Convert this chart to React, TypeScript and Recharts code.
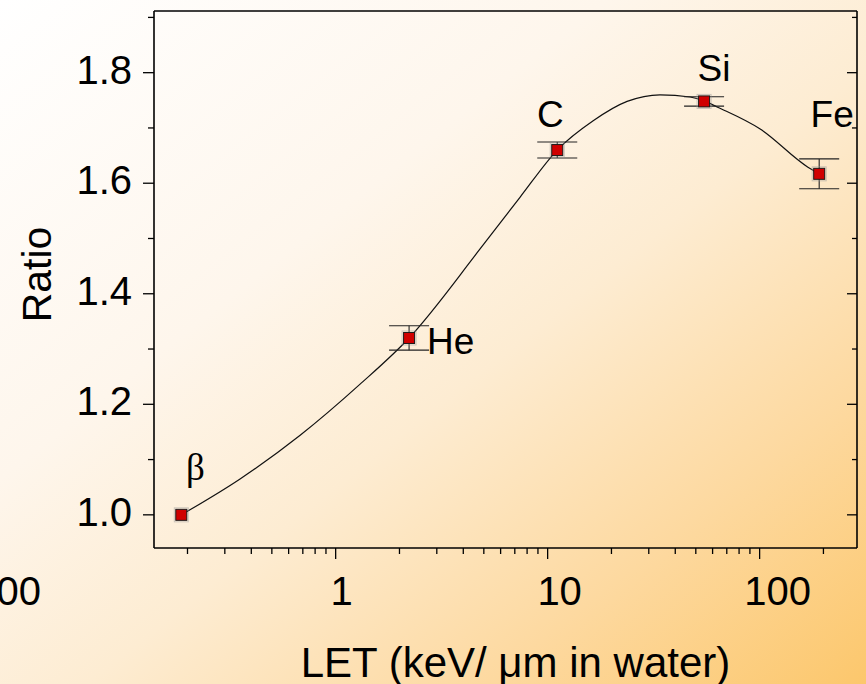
import React from 'react';
import { ComposedChart, Scatter, Line, XAxis, YAxis, ErrorBar } from 'recharts';

// Measured points (LET in keV/um, ratio, error)
const ionNames = ['β', 'He', 'C', 'Si', 'Fe'];
const letValues = [0.187, 2.22, 11.1, 54.7, 191];
const ratioValues = [1.0, 1.32, 1.66, 1.748, 1.617];
const ratioErrors = [0, 0.022, 0.0145, 0.0085, 0.027];

// Fitted smooth curve
const fitLet = [0.187, 0.354, 0.68, 1.3, 2.22, 4.8, 7.42, 11.1, 16.4, 23.7, 33.9, 47, 54.7, 63, 100.6, 169, 191];
const fitRatio = [1.0, 1.065, 1.144, 1.236, 1.32, 1.481, 1.575, 1.66, 1.713, 1.748, 1.76, 1.756, 1.749, 1.738, 1.698, 1.629, 1.617];

// Axis ticks
const xMajorTicks = [1, 10, 100];
const xAllTicks = [0.2, 0.3, 0.4, 0.5, 0.6, 0.7, 0.8, 0.9, 1, 2, 3, 4, 5, 6, 7, 8, 9, 10, 20, 30, 40, 50, 60, 70, 80, 90, 100, 200];
const yMajorTicks = [1.0, 1.2, 1.4, 1.6, 1.8];
const yAllTicks = [1.0, 1.1, 1.2, 1.3, 1.4, 1.5, 1.6, 1.7, 1.8, 1.9];

const xDomain = [0.139, 288];
const yDomain = [0.94, 1.9116];

const points = ionNames.map((name, i) => ({ name, let: letValues[i], ratio: ratioValues[i], err: ratioErrors[i] }));
const fitData = fitLet.map((v, i) => ({ let: v, ratio: fitRatio[i] }));

const SANS = '"Liberation Sans", Arial, sans-serif';
const SERIF = '"Liberation Serif", "Times New Roman", serif';

const labelStyle: Record<string, { dx: number; dy: number; anchor: string; serif?: boolean }> = {
  'β': { dx: 14, dy: -35, anchor: 'middle', serif: true },
  He: { dx: 18, dy: 16, anchor: 'start' },
  C: { dx: -7, dy: -23, anchor: 'middle' },
  Si: { dx: 10, dy: -20, anchor: 'middle' },
  Fe: { dx: 13, dy: -47, anchor: 'middle' },
};

const MarkerShape = (props: any) => {
  const { cx, cy, payload } = props;
  if (cx == null || cy == null) return null;
  const s = 11;
  const ls = labelStyle[payload.name];
  return (
    <g>
      <rect x={cx - s / 2 - 1.5} y={cy - s / 2 - 1.5} width={s + 3} height={s + 3} fill="none" stroke="#9a9a9a" strokeOpacity={0.5} strokeWidth={1} />
      <rect x={cx - s / 2} y={cy - s / 2} width={s} height={s} fill="#d00000" stroke="#1a1a1a" strokeWidth={1} />
      {ls && (
        <text x={cx + ls.dx} y={cy + ls.dy} textAnchor={ls.anchor as any} fontFamily={ls.serif ? SERIF : SANS} fontSize={37} fill="#000">
          {payload.name}
        </text>
      )}
    </g>
  );
};

const BottomTick = (props: any) => {
  const { x, y, payload } = props;
  const v = payload.value;
  const major = xMajorTicks.includes(v);
  return (
    <g>
      <line x1={x} y1={y} x2={x} y2={y + (major ? 11 : 6)} stroke="#000" strokeWidth={1.3} />
      {major && (
        <text x={x + 6 * String(v).length} y={y + 57} textAnchor="middle" fontFamily={SANS} fontSize={40} fill="#000">
          {String(v)}
        </text>
      )}
    </g>
  );
};

const TopTick = (props: any) => {
  const { x, y, payload } = props;
  const major = xMajorTicks.includes(payload.value);
  return <line x1={x} y1={y} x2={x} y2={y + (major ? 10 : 5)} stroke="#000" strokeWidth={1.3} />;
};

const LeftTick = (props: any) => {
  const { x, y, payload } = props;
  const v = payload.value;
  const major = yMajorTicks.includes(v);
  return (
    <g>
      <line x1={x - (major ? 11 : 6)} y1={y} x2={x} y2={y} stroke="#000" strokeWidth={1.3} />
      {major && (
        <text x={x - 22} y={y + 11} textAnchor="end" fontFamily={SANS} fontSize={40} fill="#000">
          {v.toFixed(1)}
        </text>
      )}
    </g>
  );
};

const RightTick = (props: any) => {
  const { x, y, payload } = props;
  const major = yMajorTicks.includes(payload.value);
  return <line x1={x - (major ? 10 : 5)} y1={y} x2={x} y2={y} stroke="#000" strokeWidth={1.3} />;
};

export default function App() {
  const axisLine = { stroke: '#000', strokeWidth: 1.6 };
  return (
    <div
      style={{
        position: 'absolute',
        left: 0,
        top: 0,
        width: 866,
        height: 684,
        overflow: 'hidden',
        background: 'linear-gradient(to bottom right, #ffffff 0%, #fef6ec 35%, #fdecd2 55%, #fdd9a0 78%, #fcc76c 100%)',
      }}
    >
      <ComposedChart width={866} height={684} margin={{ top: 6, right: 4, bottom: 76, left: 94 }}>
        <XAxis
          dataKey="let"
          type="number"
          scale="log"
          domain={xDomain}
          allowDataOverflow
          ticks={xAllTicks}
          interval={0}
          height={60}
          tickSize={0}
          tickMargin={0}
          axisLine={axisLine}
          tickLine={false}
          tick={<BottomTick />}
        />
        <XAxis
          xAxisId="top"
          orientation="top"
          type="number"
          scale="log"
          domain={xDomain}
          allowDataOverflow
          ticks={xAllTicks}
          interval={0}
          height={5}
          tickSize={0}
          tickMargin={0}
          axisLine={axisLine}
          tickLine={false}
          tick={<TopTick />}
        />
        <YAxis
          dataKey="ratio"
          type="number"
          domain={yDomain}
          allowDataOverflow
          ticks={yAllTicks}
          interval={0}
          width={60}
          tickSize={0}
          tickMargin={0}
          axisLine={axisLine}
          tickLine={false}
          tick={<LeftTick />}
        />
        <YAxis
          yAxisId="right"
          orientation="right"
          type="number"
          domain={yDomain}
          allowDataOverflow
          ticks={yAllTicks}
          interval={0}
          width={5}
          tickSize={0}
          tickMargin={0}
          axisLine={axisLine}
          tickLine={false}
          tick={<RightTick />}
        />
        <Line
          data={fitData}
          dataKey="ratio"
          type="monotone"
          stroke="#111"
          strokeWidth={1.2}
          dot={false}
          activeDot={false}
          isAnimationActive={false}
        />
        <Scatter data={points} dataKey="ratio" shape={<MarkerShape />} isAnimationActive={false}>
          <ErrorBar dataKey="err" direction="y" width={20} stroke="#222" strokeWidth={1.1} />
        </Scatter>
      </ComposedChart>
      <svg width={866} height={684} style={{ position: 'absolute', left: 0, top: 0, pointerEvents: 'none' }}>
        <text x={41} y={605} textAnchor="end" fontFamily={SANS} fontSize={40} fill="#000">00</text>
        <text transform="translate(51,274.5) rotate(-90)" textAnchor="middle" fontFamily={SANS} fontSize={41} fill="#000">Ratio</text>
        <text x={515.5} y={677} textAnchor="middle" fontFamily={SANS} fontSize={42} fill="#000">LET (keV/ μm in water)</text>
      </svg>
    </div>
  );
}
